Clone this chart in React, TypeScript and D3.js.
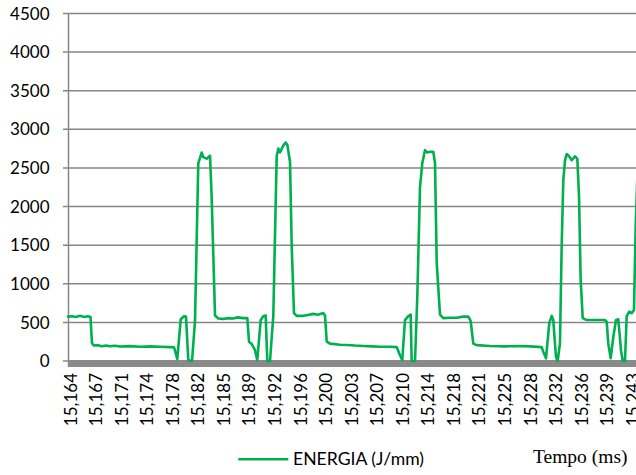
import React from "react";
import * as d3 from "d3";

const tickLabels = ["15,164","15,167","15,171","15,174","15,178","15,182","15,185","15,189","15,192","15,196","15,200","15,203","15,207","15,210","15,214","15,218","15,221","15,225","15,228","15,232","15,236","15,239","15,243"];
const yTicks = [0, 500, 1000, 1500, 2000, 2500, 3000, 3500, 4000, 4500];

const times = [
15.16365,15.16421,15.16477,15.16534,15.16590,15.16646,15.16681,15.16702,15.16730,15.16787,
15.16843,15.16899,15.16955,15.17025,15.17096,15.17236,15.17377,15.17517,15.17658,15.17798,
15.17855,15.17901,15.17949,15.17995,15.18023,15.18056,15.18108,15.18150,15.18196,15.18244,
15.18266,15.18314,15.18361,15.18384,15.18431,15.18477,15.18547,15.18614,15.18684,15.18754,
15.18824,15.18885,15.18909,15.18947,15.18993,15.19025,15.19073,15.19110,15.19143,15.19166,
15.19204,15.19250,15.19298,15.19320,15.19344,15.19391,15.19424,15.19447,15.19485,15.19509,
15.19541,15.19579,15.19672,15.19738,15.19812,15.19878,15.19953,15.19977,15.20001,15.20047,
15.20188,15.20282,15.20398,15.20515,15.20637,15.20750,15.20890,15.20984,15.21031,15.21063,
15.21101,15.21147,15.21181,15.21195,15.21242,15.21274,15.21312,15.21344,15.21382,15.21414,
15.21452,15.21499,15.21523,15.21547,15.21593,15.21639,15.21733,15.21828,15.21920,15.21991,
15.22024,15.22061,15.22109,15.22296,15.22506,15.22717,15.22858,15.23022,15.23045,15.23083,
15.23129,15.23163,15.23185,15.23223,15.23247,15.23279,15.23303,15.23326,15.23350,15.23374,
15.23410,15.23444,15.23490,15.23523,15.23547,15.23570,15.23599,15.23655,15.23795,15.23912,
15.23936,15.23958,15.23992,15.24029,15.24067,15.24099,15.24137,15.24161,15.24193,15.24217,
15.24253,15.24287,15.24319,15.24345,15.24375
];
const energia = [
575,580,570,585,570,580,570,230,200,205,
190,200,190,198,188,192,185,190,185,180,
178,25,540,580,575,10,0,520,2560,2700,
2640,2620,2660,2120,590,550,545,555,550,565,
555,555,250,220,140,10,530,580,590,0,
0,580,2650,2750,2700,2790,2830,2800,2580,1490,
620,585,585,595,610,600,620,590,250,225,
210,208,200,195,190,185,185,180,75,10,
530,580,600,0,0,830,2250,2560,2730,2700,
2710,2710,2560,1270,600,555,560,560,575,575,
520,225,205,195,190,195,190,180,120,35,
490,585,530,55,0,230,1480,2340,2600,2680,
2650,2600,2650,2620,2130,1050,555,530,530,530,
510,225,35,315,530,540,140,0,0,580,
640,620,660,1800,2600
];

const W = 636, H = 475;
const axisX = 68.5;
const x = d3.scaleLinear().domain([15.164, 15.243]).range([70.5, 632.6]);
const xTick = d3.scalePoint<string>().domain(tickLabels).range([70.5, 632.6]);
const y = d3.scaleLinear().domain([0, 4500]).range([361, 13.5]);

const data = times.map((t, i) => ({ t, v: energia[i] }));
const line = d3.line<{ t: number; v: number }>().x(d => x(d.t)).y(d => y(d.v)).curve(d3.curveLinear);

const font = "Lato, 'Noto Sans', sans-serif";

export default function App() {
  return (
    <svg width={W} height={H} style={{ position: "absolute", left: 0, top: 0, background: "#fff" }}>
      <rect x={0} y={0} width={W} height={H} fill="#fff" />
      {yTicks.map(v => (
        <g key={v}>
          <line x1={63} x2={W + 10} y1={y(v)} y2={y(v)} stroke="#868686" strokeWidth={1.5} />
          <text x={49.5} y={y(v)} dy="0.36em" textAnchor="end" fontFamily={font} fontSize={17} fill="#000">{v}</text>
        </g>
      ))}
      <line x1={axisX} x2={axisX} y1={y(4500)} y2={367} stroke="#868686" strokeWidth={1.5} />
      <rect x={axisX - 0.5} y={360} width={W} height={7} fill="#8a8a8a" />
      <path d={line(data) || ""} fill="none" stroke="#00B050" strokeWidth={2.6} strokeLinejoin="round" strokeLinecap="round" />
      {tickLabels.map(l => (
        <text key={l} transform={`translate(${xTick(l)},373) rotate(-90)`} dy="0.36em" textAnchor="end" fontFamily={font} fontSize={17} fill="#000">{l}</text>
      ))}
      <line x1={238.3} x2={288.3} y1={459.3} y2={459.3} stroke="#00B050" strokeWidth={2.6} />
      <text x={293} y={465} fontFamily={font} fontSize={17.6} fill="#000">ENERGIA (J/mm)</text>
      <text x={533} y={462.5} fontFamily="'Liberation Serif', 'Times New Roman', serif" fontSize={19.5} fill="#000">Tempo (ms)</text>
    </svg>
  );
}
